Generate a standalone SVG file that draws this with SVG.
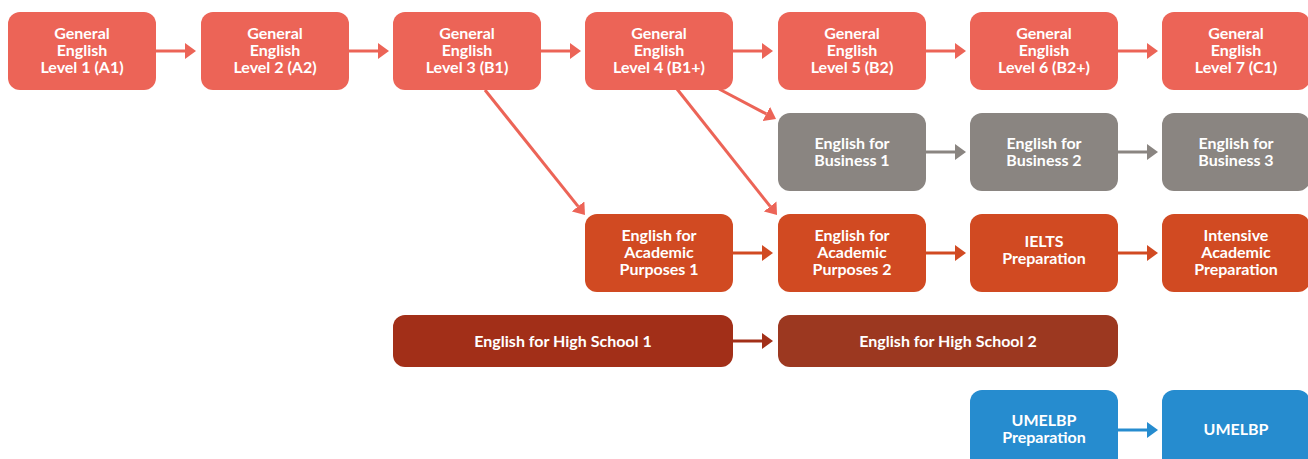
<svg xmlns="http://www.w3.org/2000/svg" width="1308" height="459" viewBox="0 0 1308 459">
<style>
.n text{font-family:Lato,"Open Sans","Liberation Sans",sans-serif;font-weight:700;font-size:16px;fill:#fff;text-anchor:middle}
.coral rect{fill:#EC6457}
.grey rect{fill:#8A8581}
.acad rect{fill:#D14A22}
.hs1 rect{fill:#A22F18}
.hs2 rect{fill:#9C3820}
.blue rect{fill:#268CCF}
.c line{stroke-width:3;fill:none}
.lc{stroke:#EC6457}
.lg{stroke:#8A8581}
.la{stroke:#D14A22}
.lh{stroke:#A22F18}
.lb{stroke:#268CCF}
</style>
<defs>
<marker id="mc" markerUnits="userSpaceOnUse" markerWidth="12" markerHeight="16" refX="0" refY="8" orient="auto"><path d="M0,0L11,8L0,16z" fill="#EC6457"/></marker>
<marker id="mg" markerUnits="userSpaceOnUse" markerWidth="12" markerHeight="16" refX="0" refY="8" orient="auto"><path d="M0,0L11,8L0,16z" fill="#8A8581"/></marker>
<marker id="ma" markerUnits="userSpaceOnUse" markerWidth="12" markerHeight="16" refX="0" refY="8" orient="auto"><path d="M0,0L11,8L0,16z" fill="#D14A22"/></marker>
<marker id="mh" markerUnits="userSpaceOnUse" markerWidth="12" markerHeight="16" refX="0" refY="8" orient="auto"><path d="M0,0L11,8L0,16z" fill="#A22F18"/></marker>
<marker id="mb" markerUnits="userSpaceOnUse" markerWidth="12" markerHeight="16" refX="0" refY="8" orient="auto"><path d="M0,0L11,8L0,16z" fill="#268CCF"/></marker>
</defs>
<rect width="1308" height="459" fill="#fff"/>
<g id="connectors" class="c">
<line class="lc" x1="156" y1="51" x2="185" y2="51" marker-end="url(#mc)"/>
<line class="lc" x1="349" y1="51" x2="378" y2="51" marker-end="url(#mc)"/>
<line class="lc" x1="541" y1="51" x2="570" y2="51" marker-end="url(#mc)"/>
<line class="lc" x1="733" y1="51" x2="762" y2="51" marker-end="url(#mc)"/>
<line class="lc" x1="926" y1="51" x2="955" y2="51" marker-end="url(#mc)"/>
<line class="lc" x1="1118" y1="51" x2="1147" y2="51" marker-end="url(#mc)"/>
<line class="lc" x1="485" y1="90" x2="578.1" y2="206.4" marker-end="url(#mc)"/>
<line class="lc" x1="719" y1="89" x2="766.3" y2="113.9" marker-end="url(#mc)"/>
<line class="lc" x1="677" y1="89" x2="770.2" y2="206.4" marker-end="url(#mc)"/>
<line class="lg" x1="926" y1="152" x2="955" y2="152" marker-end="url(#mg)"/>
<line class="lg" x1="1118" y1="152" x2="1147" y2="152" marker-end="url(#mg)"/>
<line class="la" x1="733" y1="253" x2="762" y2="253" marker-end="url(#ma)"/>
<line class="la" x1="926" y1="253" x2="955" y2="253" marker-end="url(#ma)"/>
<line class="la" x1="1118" y1="253" x2="1147" y2="253" marker-end="url(#ma)"/>
<line class="lh" x1="733" y1="341" x2="762" y2="341" marker-end="url(#mh)"/>
<line class="lb" x1="1118" y1="430" x2="1147" y2="430" marker-end="url(#mb)"/>
</g>
<g id="ge1" class="n coral"><rect x="8" y="12" width="148" height="78" rx="12"/><text x="82" y="39">General</text><text x="82" y="56">English</text><text x="82" y="73">Level 1 (A1)</text></g>
<g id="ge2" class="n coral"><rect x="201" y="12" width="148" height="78" rx="12"/><text x="275" y="39">General</text><text x="275" y="56">English</text><text x="275" y="73">Level 2 (A2)</text></g>
<g id="ge3" class="n coral"><rect x="393" y="12" width="148" height="78" rx="12"/><text x="467" y="39">General</text><text x="467" y="56">English</text><text x="467" y="73">Level 3 (B1)</text></g>
<g id="ge4" class="n coral"><rect x="585" y="12" width="148" height="78" rx="12"/><text x="659" y="39">General</text><text x="659" y="56">English</text><text x="659" y="73">Level 4 (B1+)</text></g>
<g id="ge5" class="n coral"><rect x="778" y="12" width="148" height="78" rx="12"/><text x="852" y="39">General</text><text x="852" y="56">English</text><text x="852" y="73">Level 5 (B2)</text></g>
<g id="ge6" class="n coral"><rect x="970" y="12" width="148" height="78" rx="12"/><text x="1044" y="39">General</text><text x="1044" y="56">English</text><text x="1044" y="73">Level 6 (B2+)</text></g>
<g id="ge7" class="n coral"><rect x="1162" y="12" width="148" height="78" rx="12"/><text x="1236" y="39">General</text><text x="1236" y="56">English</text><text x="1236" y="73">Level 7 (C1)</text></g>
<g id="eb1" class="n grey"><rect x="778" y="113" width="148" height="78" rx="12"/><text x="852" y="149">English for</text><text x="852" y="166">Business 1</text></g>
<g id="eb2" class="n grey"><rect x="970" y="113" width="148" height="78" rx="12"/><text x="1044" y="149">English for</text><text x="1044" y="166">Business 2</text></g>
<g id="eb3" class="n grey"><rect x="1162" y="113" width="148" height="78" rx="12"/><text x="1236" y="149">English for</text><text x="1236" y="166">Business 3</text></g>
<g id="eap1" class="n acad"><rect x="585" y="214" width="148" height="78" rx="12"/><text x="659" y="241">English for</text><text x="659" y="258">Academic</text><text x="659" y="275">Purposes 1</text></g>
<g id="eap2" class="n acad"><rect x="778" y="214" width="148" height="78" rx="12"/><text x="852" y="241">English for</text><text x="852" y="258">Academic</text><text x="852" y="275">Purposes 2</text></g>
<g id="ielts" class="n acad"><rect x="970" y="214" width="148" height="78" rx="12"/><text x="1044" y="247">IELTS</text><text x="1044" y="264">Preparation</text></g>
<g id="iap" class="n acad"><rect x="1162" y="214" width="148" height="78" rx="12"/><text x="1236" y="241">Intensive</text><text x="1236" y="258">Academic</text><text x="1236" y="275">Preparation</text></g>
<g id="hs1" class="n hs1"><rect x="393" y="315" width="340" height="52" rx="12"/><text x="563" y="347">English for High School 1</text></g>
<g id="hs2" class="n hs2"><rect x="778" y="315" width="340" height="52" rx="12"/><text x="948" y="347">English for High School 2</text></g>
<g id="umprep" class="n blue"><rect x="970" y="390" width="148" height="80" rx="12"/><text x="1044" y="426">UMELBP</text><text x="1044" y="443">Preparation</text></g>
<g id="umelbp" class="n blue"><rect x="1162" y="390" width="148" height="80" rx="12"/><text x="1236" y="435">UMELBP</text></g>
</svg>
